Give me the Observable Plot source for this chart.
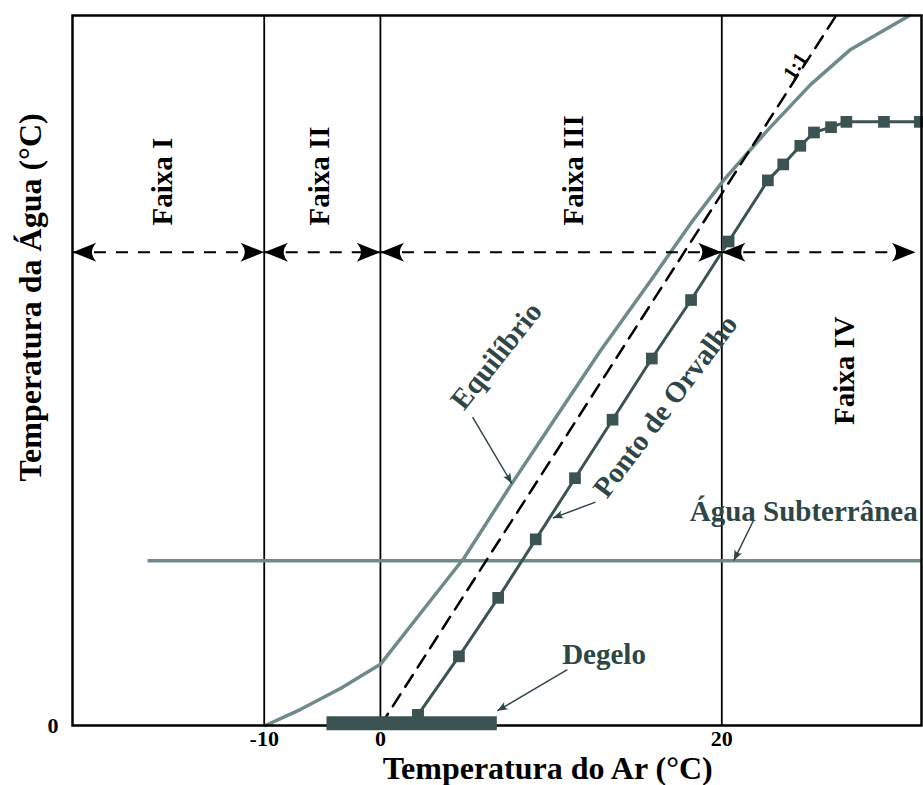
<!DOCTYPE html>
<html>
<head>
<meta charset="utf-8">
<script src="https://cdn.jsdelivr.net/npm/d3@7"></script>
<script src="https://cdn.jsdelivr.net/npm/@observablehq/plot@0.6"></script>
<style>
  html, body { margin: 0; padding: 0; background: #fff; }
  #chart svg { display: block; }
</style>
</head>
<body>
<div id="chart"></div>
<script>
// ---------------- data ----------------
const xTicks = [-10, 0, 20];
const yTicks = [0];
const zoneBounds = [-26.5, -10, 0, 20, 31.35];   // Faixa limits (°C ar)
const zoneArrowY = 17.8;
const zoneNames = ["Faixa I", "Faixa II", "Faixa III", "Faixa IV"];
const zoneLabelX = [-18.7, -5.2, 11.3, 27.2];
const zoneLabelY = [18.8, 18.8, 18.8, 11.3];

const equilibriumX = [-9.9, -6.9, -3.4, 0, 2.2, 4.9, 7.6, 10.5, 12.9, 15.8, 18.2, 20.1, 22.7, 25.2, 27.5, 31.0];
const equilibriumY = [0, 0.6, 1.4, 2.3, 4.1, 6.3, 9.0, 11.8, 14.1, 16.7, 18.9, 20.5, 22.4, 24.1, 25.4, 26.7];

const dewX = [2.2, 4.6, 6.9, 9.1, 11.4, 13.6, 15.9, 18.2, 20.4, 22.7, 23.6, 24.6, 25.4, 26.4, 27.3, 29.5, 31.6];
const dewY = [0.4, 2.6, 4.8, 7.0, 9.3, 11.5, 13.8, 16.0, 18.2, 20.5, 21.1, 21.8, 22.3, 22.5, 22.7, 22.7, 22.7];

const oneToOne = [0, 26.7];
const groundwaterX = [-20, 31.7];
const groundwaterY = 6.2;
const thawX = [-4.6, 6.85];
const thawY = 0.08;

const labels = ["Equilíbrio", "Ponto de Orvalho", "Degelo", "Água Subterrânea"];
const labelX = [6.8, 16.7, 13.1, 24.8];
const labelY = [13.9, 12.0, 2.67, 8.05];
const labelRotate = [-51.5, -53, 0, 0];
const pointerFromX = [5.4, 12.6, 10.95, 21.85];
const pointerFromY = [11.6, 8.4, 2.1, 7.7];
const pointerToX = [7.7, 10.1, 6.85, 20.7];
const pointerToY = [9.1, 7.8, 0.55, 6.2];

// ---------------- scales ----------------
const W = 923, H = 785;
const mL = 72, mR = 2, mT = 15, mB = 60;
// the drawing compresses sub-zero air temperatures (schematic axis)
const negFactor = 11.62 / 17.07;
const warp = v => (v < 0 ? v * negFactor : v);
const unwarp = v => (v < 0 ? v / negFactor : v);
const xMin = -26.5, xMax = 31.7;
const xDomainWarped = [warp(xMin), xMax];
const yDomain = [0, 26.7];
const sxLin = d3.scaleLinear(xDomainWarped, [mL, W - mR]);
const sx = v => sxLin(warp(v));
const sy = d3.scaleLinear(yDomain, [H - mB, mT]);

const serif = "'Liberation Serif', 'Times New Roman', 'DejaVu Serif', serif";
const ink = "#2f4646";
const gray = "#6e8a8a";
const dark = "#3b5353";

// filled arrowhead symbol, tip at origin pointing +x
const arrowHead = {
  draw(ctx, size) {
    const r = Math.sqrt(size / Math.PI);
    ctx.moveTo(0, 0);
    ctx.lineTo(-2.5 * r, -r);
    ctx.quadraticCurveTo(-1.6 * r, 0, -2.5 * r, r);
    ctx.closePath();
  }
};

const zones = zoneNames.map((name, i) => ({
  name, x1: zoneBounds[i], x2: zoneBounds[i + 1], lx: zoneLabelX[i], ly: zoneLabelY[i]
}));
const zoneHeads = zones.flatMap(z => [
  {x: z.x1, y: zoneArrowY, rot: 180},
  {x: z.x2, y: zoneArrowY, rot: 0}
]);

const equilibrium = equilibriumX.map((x, i) => ({x, y: equilibriumY[i]}));
const dew = dewX.map((x, i) => ({x, y: dewY[i]}));
const notes = labels.map((t, i) => {
  const ang = Math.atan2(sy(pointerToY[i]) - sy(pointerFromY[i]), sx(pointerToX[i]) - sx(pointerFromX[i])) * 180 / Math.PI;
  return {t, x: labelX[i], y: labelY[i], rot: labelRotate[i],
    x1: pointerFromX[i], y1: pointerFromY[i], x2: pointerToX[i], y2: pointerToY[i], ang};
});

const chart = Plot.plot({
  width: W, height: H,
  marginLeft: mL, marginRight: mR, marginTop: mT, marginBottom: mB,
  style: {fontFamily: serif, background: "#fff", fontSize: "22px", fontWeight: "bold"},
  x: {transform: warp, domain: xDomainWarped},
  y: {domain: yDomain},
  marks: [
    Plot.ruleX(xTicks, {stroke: "black", strokeWidth: 1.8}),
    // groundwater
    Plot.ruleY([groundwaterY], {x1: groundwaterX[0], x2: groundwaterX[1], stroke: gray, strokeWidth: 3.5}),
    // equilibrium
    Plot.line(equilibrium, {x: "x", y: "y", stroke: gray, strokeWidth: 3.5}),
    // 1:1
    Plot.line([{x: oneToOne[0], y: oneToOne[0]}, {x: oneToOne[1], y: oneToOne[1]}],
      {x: "x", y: "y", stroke: "black", strokeWidth: 2.5, strokeDasharray: "14,9"}),
    // dew point
    Plot.line(dew, {x: "x", y: "y", stroke: dark, strokeWidth: 3}),
    Plot.dot(dew, {x: "x", y: "y", symbol: "square", r: 6.6, fill: dark}),
    // frame
    Plot.frame({stroke: "black", strokeWidth: 2.5}),
    // thaw bar
    Plot.ruleY([thawY], {x1: thawX[0], x2: thawX[1], stroke: dark, strokeWidth: 14}),
    Plot.dot([dew[0]], {x: "x", y: "y", symbol: "square", r: 6.6, fill: dark}),
    // zone arrows
    Plot.ruleY(zones, {x1: "x1", x2: "x2", y: () => zoneArrowY, stroke: "black", strokeWidth: 2, strokeDasharray: "12,10"}),
    Plot.dot(zoneHeads, {x: "x", y: "y", rotate: "rot", symbol: arrowHead, r: 9.5, fill: "black", stroke: "none"}),
    // zone labels
    Plot.text(zones, {x: "lx", y: "ly", text: "name", rotate: -90, textAnchor: "start", lineAnchor: "middle",
      fontSize: 29, fontWeight: "bold", fill: "black"}),
    // annotation pointers
    Plot.link(notes, {x1: "x1", y1: "y1", x2: "x2", y2: "y2", stroke: ink, strokeWidth: 1.5}),
    Plot.dot(notes, {x: "x2", y: "y2", rotate: "ang", symbol: arrowHead, r: 4.2, fill: ink, stroke: "none"}),
    Plot.text(notes, {x: "x", y: "y", text: "t", rotate: "rot", lineAnchor: "middle", fontSize: 29, fontWeight: "bold", fill: ink}),
    Plot.text(["1:1"], {x: 24.3, y: 24.8, rotate: -57, lineAnchor: "middle", fontSize: 20, fontWeight: "bold", fill: "black"}),
    // axes (axis ticks live in the scale's warped space)
    Plot.axisX({ticks: xTicks.map(warp), tickFormat: v => String(Math.round(unwarp(v))), tickSize: 0, tickPadding: 5,
      fontSize: 22, fontWeight: "bold", fill: "black", label: null}),
    Plot.axisY({ticks: yTicks, tickFormat: v => String(v), tickSize: 0, tickPadding: 14,
      fontSize: 22, fontWeight: "bold", fill: "black", label: null}),
    Plot.text(["Temperatura do Ar (°C)"], {x: 9.8, frameAnchor: "bottom", textAnchor: "middle", lineAnchor: "middle", dy: 43,
      fontSize: 32, fontWeight: "bold", fill: "black"}),
    Plot.text(["Temperatura da Água (°C)"], {y: 16.1, frameAnchor: "left", textAnchor: "middle", lineAnchor: "middle", dx: -42, rotate: -90,
      fontSize: 32, fontWeight: "bold", fill: "black"})
  ]
});
document.getElementById("chart").appendChild(chart);
</script>
</body>
</html>
